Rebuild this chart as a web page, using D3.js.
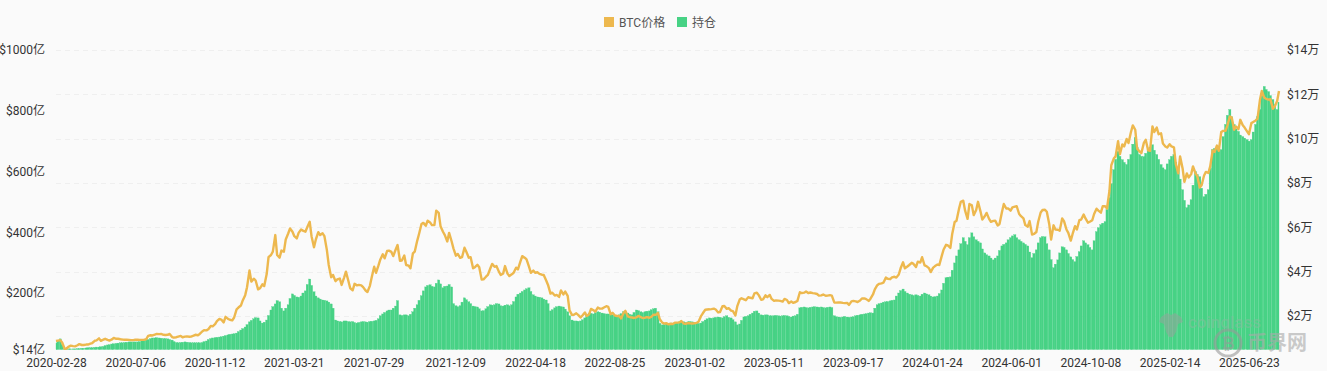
<!DOCTYPE html>
<html>
<head>
<meta charset="utf-8">
<script src="https://cdn.jsdelivr.net/npm/d3@7"></script>
<style>
  html, body { margin: 0; padding: 0; background: #fafafa; }
  svg { display: block; }
  text { font-family: Roboto, "Noto Sans CJK SC", sans-serif; }
</style>
</head>
<body>
<svg id="chart" width="1327" height="371"></svg>
<script>
// Friday readings, in thousand USD
const priceFri = [
  8.7,9.1,5.2,6.2,6.4,6.8,6.9,7.1,7.5,8.8,9.9,9.3,9.2,9.4,9.7,9.5,9.3,9.2,9.1,9.3,9.2,9.6,
  11.3,11.6,11.8,11.5,11.5,10.5,10.4,11.0,10.7,10.6,11.1,11.3,13.0,13.5,15.5,16.3,18.7,17.1,18.7,18.0,23.0,24.7,
  29.4,40.5,36.8,32.0,34.3,38.9,47.5,56.5,46.3,49.0,57.2,58.0,55.0,59.0,58.0,62.5,51.0,57.8,57.3,49.7,37.5,35.7,
  36.9,37.3,35.8,31.6,33.8,33.8,31.5,33.6,42.2,42.8,47.8,49.3,48.9,50.0,44.9,47.3,42.7,48.2,53.9,61.5,60.7,62.2,61.0,66.5,58.0,53.6,53.7,47.2,46.2,50.8,46.3,
  41.5,43.1,36.4,37.7,41.4,42.2,40.0,39.2,39.1,38.8,41.8,44.5,46.3,42.3,40.5,39.7,38.6,36.0,30.1,29.2,28.6,29.7,29.1,20.5,21.2,19.3,
  21.6,20.8,22.6,23.8,23.3,24.4,20.8,20.2,20.0,21.4,19.8,19.3,19.4,19.5,19.2,19.2,20.6,21.3,17.0,16.7,16.5,17.0,17.1,16.6,16.8,16.6,
  16.9,19.9,22.8,23.0,23.3,21.6,24.4,23.2,22.4,20.2,27.4,27.5,28.5,28.0,30.5,27.3,29.3,29.5,26.8,26.9,26.5,27.2,26.5,26.3,30.7,30.5,
  30.3,30.3,29.9,29.3,29.1,29.4,26.1,26.1,25.9,25.9,26.6,26.6,27.0,27.9,26.8,29.7,33.9,34.7,37.3,36.6,37.7,38.7,44.2,42.3,44.0,42.1,
  44.1,42.8,41.6,41.8,43.2,47.1,52.1,50.7,62.4,68.3,72.0,63.8,69.9,67.8,67.2,65.0,63.8,62.9,60.8,66.9,68.5,67.5,69.3,66.0,64.0,60.3,
  56.7,57.9,66.7,67.9,61.4,60.9,58.9,64.0,59.0,54.0,60.5,63.2,65.8,62.1,63.2,68.4,66.6,69.5,76.5,91.0,98.9,97.4,99.9,103.0,104.0,94.2,
  98.1,94.7,105.5,105.0,102.4,96.5,97.5,96.1,84.4,86.7,84.3,84.0,84.4,78.0,83.4,84.5,94.7,96.9,103.0,103.5,110.0,104.0,104.3,106.0,103.3,107.0,
  108.2,117.5,118.5,117.6,113.5,117.0,121.5
];
// readings three days after each Friday
const priceMon = [
  8.9,8.0,5.3,6.6,6.3,7.3,6.9,7.1,7.8,9.0,
  8.8,9.7,8.9,10.1,9.7,9.4,9.3,9.1,9.3,9.2,
  9.2,11.0,11.2,11.9,11.9,11.4,11.9,10.2,10.7,10.4,
  10.8,10.7,11.5,11.9,13.6,14.0,15.3,17.7,18.4,19.6,
  18.3,19.3,23.8,27.0,
  33.0,35.5,36.0,32.5,33.5,46.5,49.0,47.5,49.5,54.5,
  59.5,56.0,57.5,58.5,60.0,56.0,54.5,56.5,56.0,43.0,
  38.5,36.5,34.0,40.0,32.5,34.5,34.0,33.0,30.8,37.5,
  39.5,45.5,46.0,49.5,47.0,52.0,45.0,43.0,41.5,49.0,
  57.0,62.0,63.0,61.0,67.5,60.5,56.5,57.5,50.5,48.0,
  46.5,49.0,
  46.5,42.0,42.0,36.5,38.5,43.5,42.5,38.5,42.5,38.0,
  39.5,41.0,47.0,45.5,39.5,39.5,39.0,38.5,34.0,30.5,
  29.5,31.5,31.0,22.5,20.5,20.5,20.2,20.0,23.2,22.0,
  23.3,23.8,24.1,21.4,20.0,18.9,22.3,19.5,19.1,20.0,
  19.1,19.5,19.6,20.5,18.5,16.6,16.2,16.4,17.0,17.7,
  16.5,16.7,16.7,
  17.4,21.2,22.9,23.1,22.9,21.8,24.5,23.5,22.2,24.3,
  28.0,27.1,28.2,30.2,29.4,27.5,28.5,27.7,27.0,26.8,
  27.7,25.8,25.9,26.8,30.3,31.0,30.6,30.2,29.2,29.7,
  29.2,29.2,26.0,26.1,25.8,25.0,26.8,26.3,27.9,27.6,
  27.8,32.0,34.5,35.0,36.8,37.4,37.3,41.5,41.5,43.0,
  43.5,44.5,
  46.5,42.5,39.8,42.5,43.0,50.0,51.8,57.0,63.0,71.5,
  67.5,70.5,65.5,71.5,63.5,66.5,62.5,63.0,61.5,70.5,
  68.5,69.0,69.5,65.0,61.0,62.8,57.0,62.5,67.8,67.0,
  54.5,59.0,58.5,62.8,57.5,57.0,59.0,63.5,64.0,62.5,
  66.0,67.5,69.5,68.5,88.0,92.0,93.0,96.5,98.0,106.0,
  95.5,93.5,
  99.5,94.5,103.0,102.0,97.8,96.0,96.5,88.5,92.0,80.5,
  82.5,87.5,83.0,79.0,85.0,87.5,94.0,94.5,103.5,106.0,
  109.5,105.5,108.5,105.0,102.0,107.5,109.0,121.5,118.0,117.8,
  114.5
];
// open interest, in 亿 USD
const oiFri = [
  35,49,16,16,16,17,18,19,20,21,22,24,29,32,34,36,37,39,39,39,
  42,45,50,52,52,50,49,45,37,37,39,37,36,36,37,42,50,53,55,58,
  62,65,68,78,88,105,115,118,101,111,144,164,171,141,161,197,187,190,207,246,
  204,184,177,174,164,111,106,108,106,106,101,105,105,106,108,115,131,141,144,157,
  128,128,125,138,161,191,220,227,220,243,217,223,220,158,158,184,171,157,154,141,
  148,161,161,164,157,161,161,187,200,210,217,194,187,184,177,141,151,157,154,138,
  111,108,108,118,134,131,138,134,131,131,125,128,138,134,128,144,138,138,141,148,
  138,95,98,101,101,105,105,105,105,101,101,111,118,118,121,118,125,118,105,98,
  121,125,134,141,128,128,125,125,125,125,125,121,125,151,154,151,154,154,154,151,
  154,125,121,121,121,121,125,128,131,134,134,161,167,171,174,177,200,213,200,194,
  194,190,200,194,187,190,210,250,253,299,342,382,359,398,375,365,332,322,309,322,
  355,365,382,392,375,365,355,316,342,382,385,342,283,309,352,342,319,303,336,372,
  359,342,402,425,435,514,606,666,639,623,656,712,656,649,672,688,656,623,606,639,
  656,606,540,481,507,600,583,517,540,672,679,672,755,804,755,732,715,705,705,755,
  804,880,863,837,804,827
];
const oiMon = [
  42,30,16,16,16,17,18,20,20,22,23,27,30,33,35,36,38,39,39,40,
  44,47,52,53,51,50,47,40,36,38,38,36,36,36,40,47,52,54,56,60,
  64,66,73,83,96,110,119,108,104,126,155,175,150,150,182,192,186,200,228,225,
  190,180,176,170,150,108,105,108,105,103,103,106,104,107,110,125,136,144,150,175,
  126,128,130,150,176,207,225,222,232,230,222,228,165,155,170,178,165,155,148,142,
  155,160,165,158,160,158,172,196,205,214,205,190,186,180,165,145,155,155,147,125,
  108,107,112,126,133,135,137,132,131,128,127,132,138,130,136,142,136,140,145,150,
  100,96,100,100,103,106,103,106,102,100,106,115,117,120,120,122,120,112,95,110,
  123,130,140,134,127,128,125,126,124,126,123,124,130,153,152,153,155,153,152,153,
  152,122,120,123,120,122,127,130,132,135,150,165,170,172,176,190,208,205,196,192,
  192,196,197,190,188,198,232,252,275,322,362,370,382,385,370,345,326,315,315,340,
  360,375,388,382,370,360,335,330,365,386,362,310,295,332,350,330,310,320,355,365,
  350,372,415,430,475,560,640,650,630,640,690,680,650,660,680,670,640,612,625,650,
  630,575,505,490,555,590,545,525,610,676,675,715,785,780,740,720,710,700,730,780,
  850,870,850,820
];
const dateTicks = ["2020-02-28","2020-07-06","2020-11-12","2021-03-21","2021-07-29","2021-12-09","2022-04-18","2022-08-25",
  "2023-01-02","2023-05-11","2023-09-17","2024-01-24","2024-06-01","2024-10-08","2025-02-14","2025-06-23"];
const oiTicks = [14,200,400,600,800,1000];
const priceTicks = [20,40,60,80,100,120,140];
const seriesNames = ["BTC价格","持仓"];

const parseDay = d3.utcParse("%Y-%m-%d");
const fmtDay = d3.utcFormat("%Y-%m-%d");
const firstDay = parseDay("2020-02-28");
const lastDay = parseDay("2025-08-11");
const fridays = d3.utcDay.range(firstDay, lastDay, 7).concat([lastDay]);

// zip the Friday and Monday readings into one table
const rows = [];
fridays.forEach((day, i) => {
  rows.push({day: day, price: priceFri[i], oi: oiFri[i]});
  if (i < priceMon.length)
    rows.push({day: d3.utcDay.offset(day, 3), price: priceMon[i], oi: oiMon[i]});
});

const margin = {left: 56, right: 48, top: 50, bottom: 21.5};
const width = 1327, height = 371;
const colors = {price: "#edb84e", oi: "#47d285"};

const svg = d3.select("#chart");
const x = d3.scaleUtc().domain([firstDay, lastDay]).range([margin.left, width - margin.right]);
const yOi = d3.scaleLinear().domain([14, 1000]).range([height - margin.bottom, margin.top]);
const yPrice = d3.scaleLinear().domain([4.87, 140]).range([height - margin.bottom, margin.top]);

// grid follows the price axis
svg.append("g").selectAll("line")
  .data(priceTicks)
  .enter()
  .append("line")
  .attr("x1", margin.left)
  .attr("x2", width - margin.right)
  .attr("y1", d => Math.round(yPrice(d)) + 0.5)
  .attr("y2", d => Math.round(yPrice(d)) + 0.5)
  .attr("stroke", "#efefef")
  .attr("stroke-dasharray", "5,4");

const barWidth = (x(fridays[1]) - x(fridays[0])) / 2;
const barLeft = d => Math.max(margin.left, x(d.day) - barWidth / 2);
const barRight = d => Math.min(x(d.day) + barWidth / 2, width - margin.right);

svg.append("g").selectAll("rect")
  .data(rows)
  .enter()
  .append("rect")
  .attr("x", barLeft)
  .attr("width", d => barRight(d) - barLeft(d))
  .attr("y", d => yOi(d.oi))
  .attr("height", d => yOi(14) - yOi(d.oi))
  .attr("fill", colors.oi)
  .attr("stroke", colors.oi)
  .attr("stroke-width", 0.3);

const priceLine = d3.line()
  .x(d => x(d.day))
  .y(d => yPrice(d.price));

svg.append("path")
  .datum(rows)
  .attr("d", priceLine)
  .attr("fill", "none")
  .attr("stroke", colors.price)
  .attr("stroke-width", 2.4)
  .attr("stroke-linejoin", "round");

function styleAxis(g) {
  g.select(".domain").remove();
  g.selectAll("text").attr("fill", "#333").style("font-size", "12px");
}

svg.append("g")
  .attr("transform", `translate(${margin.left - 11},0)`)
  .call(d3.axisLeft(yOi).tickValues(oiTicks).tickSize(0).tickPadding(0).tickFormat(d => `$${d}亿`))
  .call(styleAxis);

svg.append("g")
  .attr("transform", `translate(${width - margin.right + 8},0)`)
  .call(d3.axisRight(yPrice).tickValues(priceTicks).tickSize(0).tickPadding(0).tickFormat(d => `$${d / 10}万`))
  .call(styleAxis);

svg.append("g")
  .attr("transform", `translate(0,${height - margin.bottom + 6})`)
  .call(d3.axisBottom(x).tickValues(dateTicks.map(parseDay)).tickSize(0).tickPadding(3).tickFormat(fmtDay))
  .call(styleAxis);

// legend
const legendItems = [
  {name: seriesNames[0], color: colors.price, x: 604},
  {name: seriesNames[1], color: colors.oi, x: 677}
];
const legend = svg.append("g").selectAll("g")
  .data(legendItems)
  .enter()
  .append("g")
  .attr("transform", d => `translate(${d.x},17)`);
legend.append("rect")
  .attr("width", 10)
  .attr("height", 10)
  .attr("fill", d => d.color);
legend.append("text")
  .attr("x", 15)
  .attr("y", 9.5)
  .attr("fill", "#555")
  .style("font-size", "12px")
  .text(d => d.name);

// watermarks
const wm = svg.append("g").attr("opacity", 0.6);
wm.append("path")
  .attr("d", "M1161,317 l6,-4 l4,2 l4,-2 l6,4 l2,5 l-5,2 l-2,8 l-3,5 h-4 l-3,-5 l-2,-8 l-5,-2 z")
  .attr("fill", "#8fa89a");
wm.append("text")
  .attr("x", 1188)
  .attr("y", 328)
  .attr("fill", "#7fbf9c")
  .style("font-size", "17px")
  .style("font-weight", "500")
  .text("coinglass");
wm.append("circle")
  .attr("cx", 1228)
  .attr("cy", 343)
  .attr("r", 13)
  .attr("fill", "none")
  .attr("stroke", "#999")
  .attr("stroke-width", 3);
wm.append("text")
  .attr("x", 1228)
  .attr("y", 349)
  .attr("text-anchor", "middle")
  .attr("fill", "#999")
  .style("font-size", "16px")
  .style("font-weight", "700")
  .text("₿");
wm.append("text")
  .attr("x", 1247)
  .attr("y", 350)
  .attr("fill", "#aaa")
  .style("font-size", "20px")
  .style("font-weight", "700")
  .text("币界网");
</script>
</body>
</html>
